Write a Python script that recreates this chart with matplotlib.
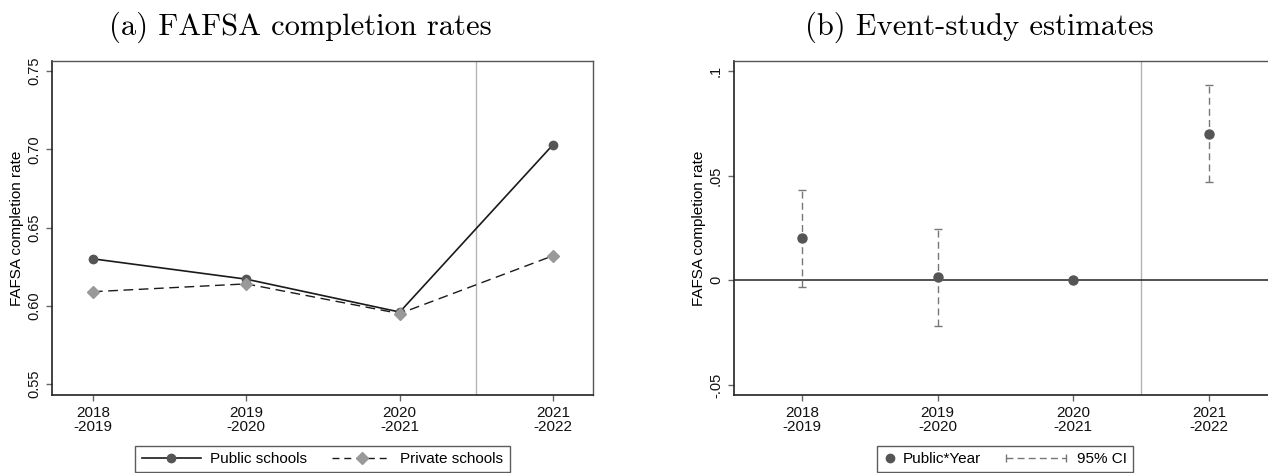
import numpy as np
import matplotlib
matplotlib.use("Agg")
import matplotlib.pyplot as plt
from matplotlib.lines import Line2D
from matplotlib.legend_handler import HandlerBase

plt.rcParams['font.family'] = ['Liberation Sans', 'DejaVu Sans']

# ---------------- data ----------------
years = ['2018\n-2019', '2019\n-2020', '2020\n-2021', '2021\n-2022']
public_rate = [0.630, 0.617, 0.596, 0.703]
private_rate = [0.609, 0.614, 0.595, 0.632]
left_yticks = [0.55, 0.60, 0.65, 0.70, 0.75]
left_yticklabels = ['0.55', '0.60', '0.65', '0.70', '0.75']

coef = [0.0200, 0.0015, 0.0, 0.0699]
ci_low = [-0.0032, -0.0217, None, 0.0470]
ci_high = [0.0431, 0.0245, None, 0.0933]
right_yticks = [-0.05, 0.0, 0.05, 0.1]
right_yticklabels = ['-.05', '0', '.05', '.1']

# ---------------- layout ----------------
W, H = 1268, 473
fig = plt.figure(figsize=(W / 100, H / 100), dpi=100)
ax1 = fig.add_axes([52 / W, 1 - 395 / H, (593 - 52) / W, (395 - 61) / H])
ax2 = fig.add_axes([734 / W, 1 - 395 / H, (1277 - 734) / W, (395 - 61) / H])

x = np.arange(len(years))
dark = '#1a1a1a'
mgray = '#555555'
lgray = '#999999'
vcol = '#b4b4b4'
cicol = '#777777'


def style_axes(ax):
    for s in ['left', 'bottom']:
        ax.spines[s].set_color('#222222')
        ax.spines[s].set_linewidth(1.2)
    for s in ['top', 'right']:
        ax.spines[s].set_color('#555555')
        ax.spines[s].set_linewidth(1.0)
    ax.tick_params(axis='both', direction='out', length=4.5, width=1.0,
                   color='#666666', labelcolor='#111111')
    ax.tick_params(axis='x', labelsize=11, pad=3.5)
    ax.tick_params(axis='y', labelsize=10.5, labelrotation=90, pad=3.5)
    ax.set_xticks(x)
    ax.set_xticklabels(years)
    for lbl in ax.get_xticklabels():
        lbl.set_linespacing(1.0)
    for lbl in ax.get_yticklabels():
        lbl.set_va('center')
    ax.set_ylabel('FAFSA completion rate', fontsize=11, labelpad=2)


# ---------------- panel (a) ----------------
ax1.axvline(2.5, color=vcol, lw=1.0, zorder=1)
ax1.plot(x, public_rate, color=dark, lw=1.2, marker='o', ms=6,
         mfc=mgray, mec=mgray, zorder=3)
ax1.plot(x, private_rate, color=dark, lw=1.0, ls=(0, (7, 4)), marker='D', ms=6,
         mfc=lgray, mec=lgray, zorder=4)
ax1.set_xlim(-0.267, 3.26)
ax1.set_ylim(0.543, 0.7564)
ax1.set_yticks(left_yticks)
ax1.set_yticklabels(left_yticklabels)
style_axes(ax1)

# ---------------- panel (b) ----------------
ax2.axvline(2.5, color=vcol, lw=1.0, zorder=1)
ax2.axhline(0, color='#333333', lw=1.2, zorder=2)
idx = [i for i in range(len(coef)) if ci_low[i] is not None]
xs = x[idx]
lo = [ci_low[i] for i in idx]
hi = [ci_high[i] for i in idx]
ax2.vlines(xs, lo, hi, colors=cicol, linestyles=[(0, (5, 3))], lw=1.0, zorder=3)
ax2.plot(xs, lo, ls='none', marker='_', ms=6, mew=1.0, color=cicol, zorder=3)
ax2.plot(xs, hi, ls='none', marker='_', ms=6, mew=1.0, color=cicol, zorder=3)
ax2.plot(x, coef, ls='none', marker='o', ms=6.5, color=mgray, zorder=4)
ax2.set_xlim(-0.5, 3.5)
ax2.set_ylim(-0.0548, 0.1048)
ax2.set_yticks(right_yticks)
ax2.set_yticklabels(right_yticklabels)
style_axes(ax2)

# ---------------- titles ----------------
fig.text(300 / W, 1 - 27 / H, '(a) FAFSA completion rates', ha='center', va='center',
         fontsize=22, family='cmr10')
fig.text(979 / W, 1 - 27 / H, '(b) Event-study estimates', ha='center', va='center',
         fontsize=22, family='cmr10')

# ---------------- legends ----------------
h_pub = Line2D([], [], color=dark, lw=1.2, marker='o', ms=6, mfc=mgray, mec=mgray)
h_priv = Line2D([], [], color=dark, lw=1.0, ls=(0, (5, 3.5)), marker='D', ms=6,
                mfc=lgray, mec=lgray)
leg1 = fig.legend([h_pub, h_priv], ['Public schools', 'Private schools'],
                  loc='upper center', bbox_to_anchor=(322.5 / W, 1 - 446 / H),
                  ncol=2, fontsize=11, numpoints=1, handlelength=3.9,
                  handletextpad=0.6, columnspacing=1.6, frameon=True,
                  fancybox=False, edgecolor='#333333', borderaxespad=0)
leg1.get_frame().set_linewidth(1.0)


class CIHandler(HandlerBase):
    def create_artists(self, legend, orig_handle, xdescent, ydescent, width,
                       height, fontsize, trans):
        y = (height - ydescent) / 2.0
        x1 = -xdescent + width - 5
        x0 = x1 - 43
        line = Line2D([x0, x1], [y, y], color=cicol, lw=1.0, ls=(0, (5, 3)))
        caps = Line2D([x0, x1], [y, y], ls='none', marker='|', ms=6, mew=1.0,
                      color=cicol)
        line.set_transform(trans)
        caps.set_transform(trans)
        return [line, caps]


h_dot = Line2D([], [], ls='none', marker='o', ms=6, color=mgray)
h_ci = Line2D([], [], color=cicol)
leg2 = fig.legend([h_dot, h_ci], ['Public*Year', '95% CI'],
                  loc='upper center', bbox_to_anchor=(1005 / W, 1 - 446 / H),
                  ncol=2, fontsize=11, numpoints=1, handlelength=1.0,
                  handletextpad=0.3, columnspacing=5.0, frameon=True,
                  fancybox=False, edgecolor='#333333', borderaxespad=0,
                  handler_map={h_ci: CIHandler()})
leg2.get_frame().set_linewidth(1.0)

fig.savefig('out.png', dpi=100)
